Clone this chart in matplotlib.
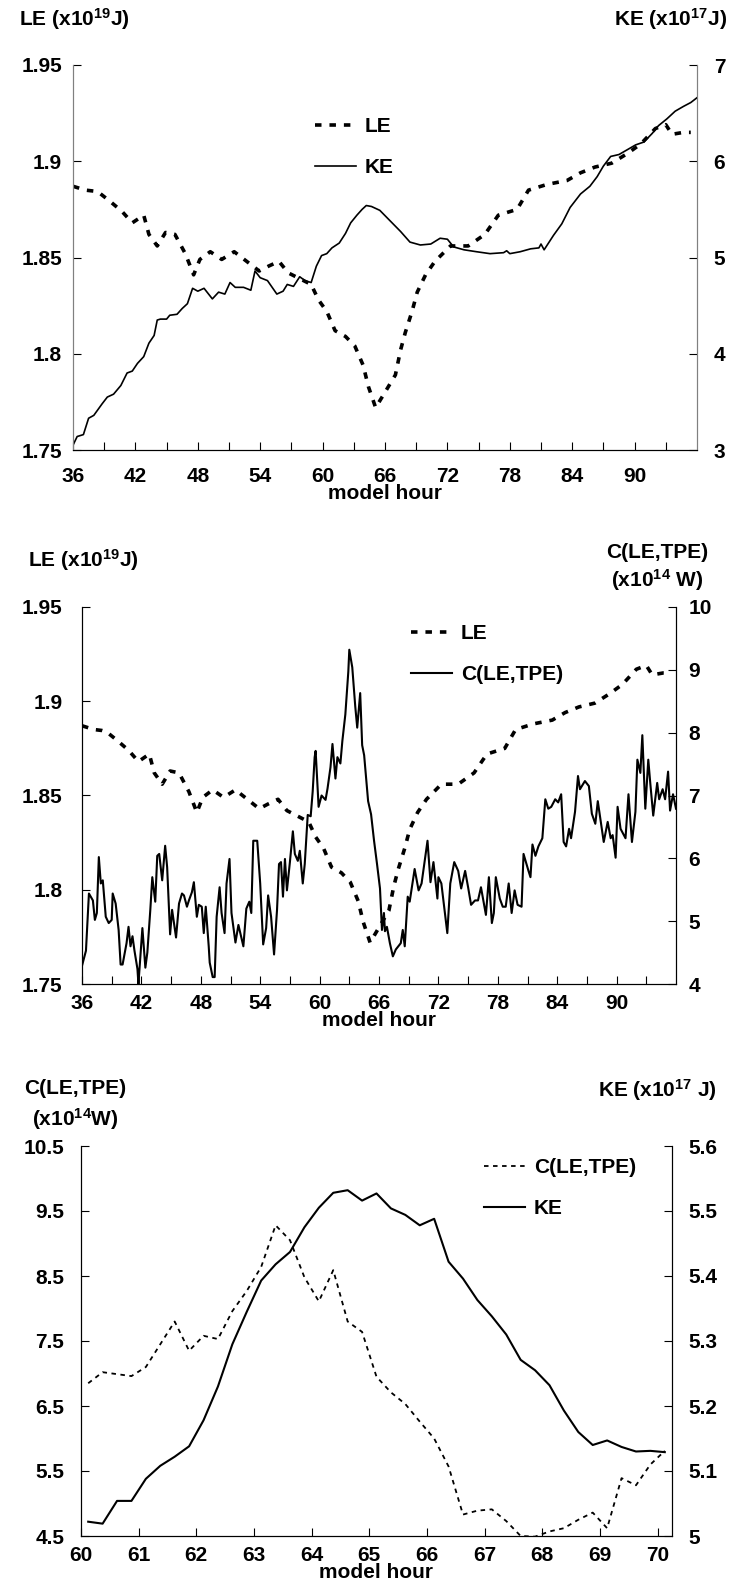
import matplotlib
matplotlib.use('Agg')
import matplotlib.pyplot as plt
from matplotlib.ticker import FuncFormatter

plt.rcParams['font.family'] = ['Liberation Sans', 'DejaVu Sans']
plt.rcParams['font.weight'] = 'bold'
plt.rcParams['mathtext.fontset'] = 'custom'
plt.rcParams['mathtext.rm'] = 'Liberation Sans:bold'
plt.rcParams['mathtext.it'] = 'Liberation Sans:bold'
plt.rcParams['mathtext.bf'] = 'Liberation Sans:bold'

# ---- data ----
# latent energy LE (x1e19 J), used in panels 1 and 2
le_hour = [36.0, 37.2, 38.0, 38.5, 39.6, 40.7, 41.7, 42.8, 43.3, 44.1, 44.9, 45.8, 46.8,
           47.6, 48.2, 49.2, 50.3, 51.5, 52.7, 53.9, 54.8, 55.8, 56.7, 57.8, 58.9, 59.6,
           60.4, 61.2, 62.2, 63.1, 63.9, 64.4, 65.1, 66.0, 67.0, 67.5, 67.95, 68.6, 69.1,
           69.9, 70.8, 72.3, 74.0, 75.6, 76.9, 78.7, 79.8, 81.6, 83.5, 84.8, 86.2, 87.8,
           89.3, 90.6, 92.0, 93.0, 93.6, 94.7, 95.4]
le = [1.887, 1.885, 1.8845, 1.8837, 1.879, 1.874, 1.868, 1.872, 1.862, 1.856, 1.863, 1.862,
      1.852, 1.841, 1.849, 1.853, 1.849, 1.853, 1.848, 1.843, 1.8455, 1.848, 1.842, 1.839,
      1.836, 1.828, 1.822, 1.812, 1.809, 1.804, 1.794, 1.783, 1.772, 1.780, 1.789, 1.802,
      1.811, 1.822, 1.832, 1.841, 1.848, 1.856, 1.856, 1.862, 1.872, 1.875, 1.885, 1.888,
      1.890, 1.894, 1.897, 1.899, 1.904, 1.909, 1.917, 1.919, 1.914, 1.915, 1.915]

# kinetic energy KE (x1e17 J), panel 1
ke_hour = [36.0, 36.4, 37.0, 37.5, 38.0, 38.8, 39.3, 39.9, 40.6, 41.2, 41.7, 42.2, 42.8,
           43.3, 43.8, 44.1, 44.4, 45.0, 45.3, 46.0, 46.5, 47.0, 47.5, 48.0, 48.6, 49.4,
           50.0, 50.6, 51.1, 51.6, 52.4, 53.1, 53.5, 54.0, 54.7, 55.6, 56.2, 56.6, 57.2,
           57.8, 58.3, 58.9, 59.4, 59.9, 60.4, 60.9, 61.6, 62.2, 62.7, 63.3, 63.8, 64.2,
           64.7, 65.5, 66.5, 67.5, 68.4, 69.4, 70.4, 71.3, 72.0, 72.6, 73.6, 74.8, 76.1,
           77.4, 77.7, 78.0, 79.0, 80.0, 80.8, 81.0, 81.3, 82.2, 83.0, 83.8, 84.8, 85.7,
           86.4, 87.0, 87.7, 88.5, 89.3, 90.1, 90.9, 91.7, 92.3, 93.1, 93.9, 94.7, 95.4, 96.0]
ke = [3.05, 3.14, 3.16, 3.33, 3.36, 3.48, 3.55, 3.58, 3.67, 3.80, 3.82, 3.90, 3.97, 4.11,
      4.19, 4.35, 4.36, 4.36, 4.40, 4.41, 4.47, 4.52, 4.68, 4.65, 4.68, 4.57, 4.64, 4.62,
      4.74, 4.69, 4.69, 4.66, 4.86, 4.79, 4.76, 4.62, 4.65, 4.72, 4.70, 4.80, 4.76, 4.74,
      4.91, 5.02, 5.04, 5.10, 5.15, 5.25, 5.36, 5.44, 5.50, 5.54, 5.53, 5.49, 5.38, 5.27,
      5.16, 5.13, 5.14, 5.20, 5.19, 5.11, 5.08, 5.06, 5.04, 5.05, 5.07, 5.04, 5.06, 5.09,
      5.10, 5.14, 5.08, 5.23, 5.35, 5.52, 5.66, 5.74, 5.84, 5.95, 6.05, 6.07, 6.12, 6.17,
      6.20, 6.29, 6.37, 6.44, 6.52, 6.57, 6.61, 6.66]

# conversion C(LE,TPE) (x1e14 W), panel 2
c_hour = [36.0, 36.4, 36.7, 37.1, 37.3, 37.5, 37.7, 37.9, 38.1, 38.4, 38.7, 39.0, 39.1,
          39.4, 39.7, 39.9, 40.1, 40.5, 40.7, 40.9, 41.1, 41.3, 41.6, 41.7, 41.9, 42.1,
          42.4, 42.6, 42.9, 43.1, 43.4, 43.6, 43.8, 44.1, 44.4, 44.6, 44.9, 45.1, 45.5,
          45.8, 46.1, 46.3, 46.6, 46.8, 47.1, 47.3, 47.6, 47.8, 48.1, 48.3, 48.5, 48.8,
          48.9, 49.2, 49.4, 49.6, 49.9, 50.1, 50.4, 50.6, 50.9, 51.1, 51.5, 51.8, 52.3,
          52.6, 52.9, 53.1, 53.3, 53.7, 54.0, 54.3, 54.6, 54.8, 55.1, 55.4, 55.7, 55.9,
          56.1, 56.3, 56.5, 56.7, 57.0, 57.3, 57.5, 57.8, 58.0, 58.3, 58.5, 58.8, 59.1,
          59.3, 59.5, 59.6, 59.9, 60.2, 60.6, 60.8, 61.1, 61.3, 61.6, 61.8, 62.1, 62.3,
          62.6, 62.9, 63.0, 63.3, 63.6, 63.8, 64.1, 64.3, 64.5, 64.9, 65.2, 65.5, 65.8,
          66.1, 66.3, 66.5, 66.6, 66.8, 67.1, 67.4, 67.7, 68.2, 68.4, 68.6, 68.9, 69.1,
          69.6, 70.0, 70.3, 70.9, 71.2, 71.5, 71.9, 72.0, 72.3, 72.9, 73.2, 73.6, 74.0,
          74.3, 74.7, 75.0, 75.3, 75.7, 76.0, 76.3, 76.8, 77.1, 77.4, 77.6, 77.8, 78.2,
          78.5, 78.8, 79.1, 79.4, 79.7, 80.0, 80.4, 80.6, 81.1, 81.3, 81.5, 81.8, 82.1,
          82.5, 82.8, 83.1, 83.4, 83.8, 84.1, 84.4, 84.65, 84.9, 85.2, 85.4, 85.8, 86.1,
          86.3, 86.8, 87.2, 87.5, 87.85, 88.1, 88.5, 88.7, 89.1, 89.4, 89.6, 89.9, 90.1,
          90.4, 90.9, 91.2, 91.55, 91.9, 92.1, 92.4, 92.6, 92.9, 93.2, 93.4, 93.7, 94.1,
          94.3, 94.65, 94.9, 95.2, 95.4, 95.7, 96.0]
c_conv = [4.29, 4.53, 5.44, 5.33, 5.02, 5.13, 6.02, 5.60, 5.65, 5.07, 4.97, 5.02, 5.44,
          5.28, 4.86, 4.31, 4.31, 4.65, 4.91, 4.60, 4.76, 4.53, 4.24, 4.00, 4.45, 4.89,
          4.26, 4.50, 5.18, 5.70, 5.31, 6.04, 6.07, 5.65, 6.20, 5.86, 4.79, 5.18, 4.74,
          5.28, 5.44, 5.41, 5.23, 5.33, 5.46, 5.62, 5.07, 5.26, 5.23, 4.81, 5.23, 4.60,
          4.34, 4.11, 4.11, 5.07, 5.54, 5.13, 4.81, 5.60, 5.99, 5.13, 4.66, 4.94, 4.60,
          5.20, 5.31, 5.13, 6.28, 6.28, 5.60, 4.63, 4.89, 5.41, 5.07, 4.47, 5.18, 5.91,
          5.94, 5.39, 5.99, 5.49, 5.94, 6.43, 6.07, 5.96, 6.12, 5.60, 5.91, 6.69, 6.67,
          7.06, 7.61, 7.71, 6.82, 7.00, 6.93, 7.11, 7.45, 7.82, 7.27, 7.61, 7.51, 7.87,
          8.29, 8.97, 9.32, 9.04, 8.42, 8.08, 8.63, 7.80, 7.64, 6.91, 6.70, 6.28, 5.91,
          5.52, 4.86, 5.13, 4.84, 4.91, 4.65, 4.44, 4.55, 4.65, 4.86, 4.60, 5.39, 5.31,
          5.83, 5.49, 5.60, 6.28, 5.62, 5.94, 5.36, 5.70, 5.60, 4.81, 5.60, 5.94, 5.80,
          5.52, 5.80, 5.54, 5.26, 5.33, 5.33, 5.54, 5.10, 5.70, 4.97, 5.13, 5.70, 5.36,
          5.23, 5.23, 5.60, 5.13, 5.49, 5.26, 5.23, 6.07, 5.80, 5.70, 6.22, 6.04, 6.19,
          6.32, 6.94, 6.79, 6.82, 6.94, 6.89, 7.02, 6.26, 6.19, 6.47, 6.32, 6.74, 7.31,
          7.10, 7.23, 7.15, 6.71, 6.55, 6.91, 6.47, 6.26, 6.58, 6.32, 6.37, 6.01, 6.82,
          6.47, 6.32, 7.02, 6.26, 6.74, 7.57, 7.36, 7.96, 6.79, 7.57, 7.20, 6.68, 7.20,
          6.94, 7.10, 6.94, 7.38, 6.76, 7.02, 6.79]

# panel 3: 15-minute values between hour 60 and 70
z_hour = [60.125 + 0.25 * i for i in range(41)]
z_conv = [6.85, 7.02, 6.99, 6.96, 7.10, 7.45, 7.80, 7.35, 7.58, 7.53, 7.96, 8.27, 8.64,
          9.28, 9.05, 8.48, 8.11, 8.59, 7.80, 7.64, 6.95, 6.71, 6.53, 6.26, 6.00, 5.57,
          4.83, 4.89, 4.91, 4.73, 4.50, 4.49, 4.57, 4.62, 4.75, 4.86, 4.62, 5.39, 5.28,
          5.60, 5.81]
z_ke = [5.022, 5.019, 5.054, 5.054, 5.088, 5.108, 5.122, 5.138, 5.178, 5.230, 5.295,
        5.345, 5.393, 5.418, 5.437, 5.475, 5.505, 5.528, 5.532, 5.516, 5.527, 5.504,
        5.494, 5.478, 5.488, 5.422, 5.396, 5.363, 5.338, 5.310, 5.271, 5.255, 5.232,
        5.193, 5.160, 5.140, 5.147, 5.137, 5.130, 5.131, 5.129]

long_ticks = list(range(36, 96, 3))
long_labels = [str(t) if (t - 36) % 6 == 0 else '' for t in long_ticks]
zoom_ticks = list(range(60, 71))

W, H = 730, 1583
FS = 15
fig = plt.figure(figsize=(W / 100, H / 100), dpi=100)


def box(left, top, right, bottom):
    return [left / W, 1 - bottom / H, (right - left) / W, (bottom - top) / H]


def gfmt(v, p):
    return '%g' % round(v, 3)


def style(ax, axr, xpad, lpad, rpad, spine_col='black'):
    for a in (ax, axr):
        a.spines['top'].set_visible(False)
        a.spines['bottom'].set_color('black')
        a.spines['left'].set_color(spine_col)
        a.spines['right'].set_color(spine_col)
        a.yaxis.set_major_formatter(FuncFormatter(gfmt))
    ax.tick_params(axis='x', direction='in', length=6, width=0.8, pad=xpad, labelsize=FS)
    ax.tick_params(axis='y', direction='in', length=6, width=0.8, pad=lpad, labelsize=FS)
    axr.tick_params(axis='y', direction='in', length=6, width=0.8, pad=rpad, labelsize=FS)
    for lab in ax.get_xticklabels() + ax.get_yticklabels() + axr.get_yticklabels():
        lab.set_fontweight('bold')


def legend(axr, handles, labels, x, y):
    axr.legend(handles, labels, loc='upper left',
               bbox_to_anchor=(x / W, 1 - y / H), bbox_transform=fig.transFigure,
               frameon=False, fontsize=FS, handlelength=1.95, handletextpad=0.45,
               labelspacing=1.05, borderpad=0, borderaxespad=0)


dash_le = dict(color='black', lw=2.6, dashes=(1.8, 2.2), dash_capstyle='butt')

# ---------------- panel 1 ----------------
ax1 = fig.add_axes(box(73, 65, 697, 450))
ax1b = ax1.twinx()
l1, = ax1.plot(le_hour, le, **dash_le)
k1, = ax1b.plot(ke_hour, ke, color='black', lw=1.2)
ax1.set_xlim(36, 96)
ax1.set_ylim(1.75, 1.95)
ax1.set_yticks([1.75, 1.8, 1.85, 1.9, 1.95])
ax1b.set_ylim(3, 7)
ax1b.set_yticks([3, 4, 5, 6, 7])
ax1.set_xticks(long_ticks)
ax1.set_xticklabels(long_labels)
style(ax1, ax1b, 12, 8, 12, spine_col='#808080')
legend(ax1b, [l1, k1], ['LE', 'KE'], 315, 117)
fig.text(19 / W, 1 - 19 / H, r'LE (x10$^{19}$J)', fontsize=FS, ha='left', va='center')
fig.text(727 / W, 1 - 19 / H, r'KE (x10$^{17}$J)', fontsize=FS, ha='right', va='center')
fig.text(385 / W, 1 - 493 / H, 'model hour', fontsize=FS, ha='center', va='center')

# ---------------- panel 2 ----------------
ax2 = fig.add_axes(box(82, 607, 676, 984))
ax2b = ax2.twinx()
l2, = ax2.plot(le_hour, le, **dash_le)
c2, = ax2b.plot(c_hour, c_conv, color='black', lw=1.5)
ax2.set_xlim(36, 96)
ax2.set_ylim(1.75, 1.95)
ax2.set_yticks([1.75, 1.8, 1.85, 1.9, 1.95])
ax2b.set_ylim(4, 10)
ax2b.set_yticks(range(4, 11))
ax2.set_xticks(long_ticks)
ax2.set_xticklabels(long_labels)
style(ax2, ax2b, 7, 14, 9)
legend(ax2b, [l2, c2], ['LE', 'C(LE,TPE)'], 411, 624)
fig.text(28 / W, 1 - 560 / H, r'LE (x10$^{19}$J)', fontsize=FS, ha='left', va='center')
fig.text(657 / W, 1 - 553 / H, 'C(LE,TPE)', fontsize=FS, ha='center', va='center')
fig.text(657 / W, 1 - 580 / H, r'(x10$^{14}$ W)', fontsize=FS, ha='center', va='center')
fig.text(379 / W, 1 - 1020 / H, 'model hour', fontsize=FS, ha='center', va='center')

# ---------------- panel 3 ----------------
ax3 = fig.add_axes(box(81, 1146, 672, 1536))
ax3b = ax3.twinx()
c3, = ax3.plot(z_hour, z_conv, color='black', lw=1.3, dashes=(2.5, 2.5),
               dash_capstyle='butt')
k3, = ax3b.plot(z_hour, z_ke, color='black', lw=1.5)
ax3.set_xlim(60, 70.25)
ax3.set_ylim(4.5, 10.5)
ax3.set_yticks([4.5, 5.5, 6.5, 7.5, 8.5, 9.5, 10.5])
ax3b.set_ylim(5.0, 5.6)
ax3b.set_yticks([5.0, 5.1, 5.2, 5.3, 5.4, 5.5, 5.6])
ax3.set_xticks(zoom_ticks)
style(ax3, ax3b, 7, 12, 12)
legend(ax3b, [c3, k3], ['C(LE,TPE)', 'KE'], 484, 1158)
fig.text(75 / W, 1 - 1088 / H, 'C(LE,TPE)', fontsize=FS, ha='center', va='center')
fig.text(75 / W, 1 - 1119 / H, r'(x10$^{14}$W)', fontsize=FS, ha='center', va='center')
fig.text(717 / W, 1 - 1090 / H, r'KE (x10$^{17}$ J)', fontsize=FS, ha='right', va='center')
fig.text(376 / W, 1 - 1573 / H, 'model hour', fontsize=FS, ha='center', va='center')

fig.savefig('out.png', dpi=100)
